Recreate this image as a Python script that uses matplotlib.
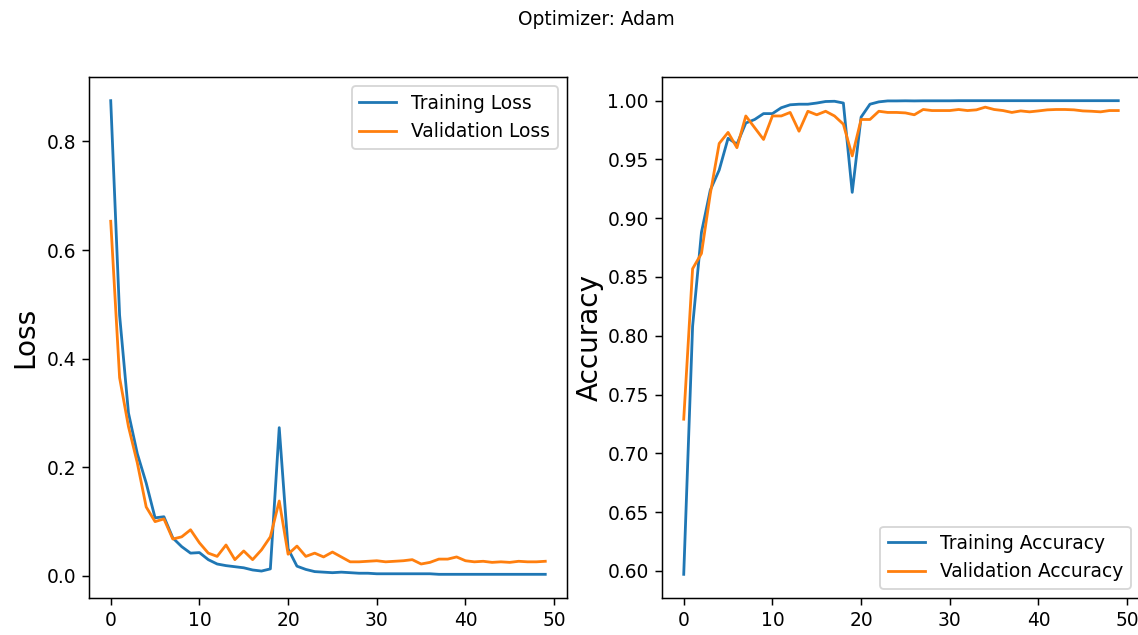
import matplotlib
matplotlib.use("Agg")
import matplotlib.pyplot as plt

epochs = list(range(50))

train_loss = [0.875, 0.48, 0.30, 0.225, 0.171, 0.107, 0.109, 0.070, 0.054, 0.042,
              0.043, 0.030, 0.022, 0.019, 0.017, 0.015, 0.011, 0.009, 0.013, 0.273,
              0.050, 0.018, 0.012, 0.008, 0.007, 0.006, 0.007, 0.006, 0.005, 0.005,
              0.004, 0.004, 0.004, 0.004, 0.004, 0.004, 0.004, 0.003, 0.003, 0.003,
              0.003, 0.003, 0.003, 0.003, 0.003, 0.003, 0.003, 0.003, 0.003, 0.003]
val_loss = [0.653, 0.365, 0.275, 0.208, 0.127, 0.100, 0.105, 0.068, 0.072, 0.085,
            0.061, 0.042, 0.036, 0.057, 0.030, 0.046, 0.030, 0.048, 0.072, 0.138,
            0.040, 0.055, 0.036, 0.042, 0.035, 0.044, 0.035, 0.026, 0.026, 0.027,
            0.028, 0.026, 0.027, 0.028, 0.030, 0.022, 0.025, 0.031, 0.031, 0.035,
            0.028, 0.026, 0.027, 0.025, 0.026, 0.025, 0.027, 0.026, 0.026, 0.027]

train_acc = [0.597, 0.808, 0.888, 0.924, 0.941, 0.968, 0.963, 0.981, 0.984, 0.989,
             0.989, 0.994, 0.9965, 0.997, 0.997, 0.998, 0.9993, 0.9995, 0.998, 0.922,
             0.986, 0.997, 0.999, 0.9998, 0.9998, 0.9999, 0.9998, 0.9999, 0.9999, 0.9999,
             0.9999, 1.0, 1.0, 1.0, 1.0, 1.0, 1.0, 1.0, 1.0, 1.0,
             1.0, 1.0, 1.0, 1.0, 1.0, 1.0, 1.0, 1.0, 1.0, 1.0]
val_acc = [0.729, 0.857, 0.870, 0.921, 0.9636, 0.973, 0.960, 0.987, 0.977, 0.967,
           0.987, 0.987, 0.990, 0.974, 0.991, 0.988, 0.991, 0.987, 0.980, 0.953,
           0.984, 0.984, 0.991, 0.990, 0.990, 0.9896, 0.988, 0.9925, 0.9916, 0.9916,
           0.9916, 0.9925, 0.9916, 0.9922, 0.9945, 0.9925, 0.9916, 0.990, 0.9913, 0.9905,
           0.9913, 0.9922, 0.9925, 0.9925, 0.9922, 0.9913, 0.9910, 0.9905, 0.9916, 0.9916]

W, H = 1138, 635
DPI = 134
fig = plt.figure(figsize=(W/DPI, H/DPI), dpi=DPI)
fig.suptitle("Optimizer: Adam", x=0.524, y=0.985, fontsize=10)

ax1 = fig.add_axes([89/W, 1-598/H, (567-89)/W, (598-77)/H])
ax2 = fig.add_axes([662/W, 1-598/H, (1140-662)/W, (598-77)/H])

ax1.plot(epochs, train_loss, label="Training Loss")
ax1.plot(epochs, val_loss, label="Validation Loss")
ax1.set_ylabel("Loss", fontsize=15)
ax1.legend(loc="upper right")

ax2.plot(epochs, train_acc, label="Training Accuracy")
ax2.plot(epochs, val_acc, label="Validation Accuracy")
ax2.set_ylabel("Accuracy", fontsize=15, labelpad=2)
ax2.legend(loc="lower right")

fig.savefig("out.png", dpi=DPI)
